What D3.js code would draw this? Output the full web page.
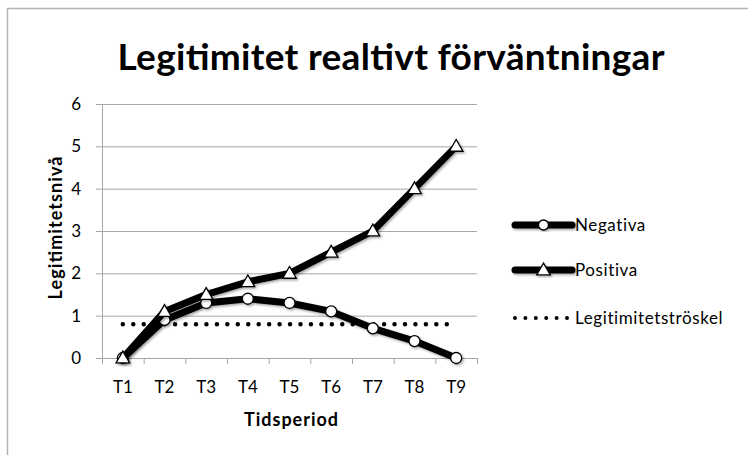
<!DOCTYPE html>
<html><head><meta charset="utf-8">
<script src="https://cdn.jsdelivr.net/npm/d3@7"></script>
<style>body{margin:0;background:#fff}svg{display:block}text{font-family:Lato,"Open Sans",sans-serif}</style>
</head><body>
<svg id="c" width="748" height="455"></svg>
<script>
const categories = ["T1","T2","T3","T4","T5","T6","T7","T8","T9"];
const negativa = [0, 0.9, 1.3, 1.4, 1.3, 1.1, 0.7, 0.4, 0];
const positiva = [0, 1.1, 1.5, 1.8, 2.0, 2.5, 3.0, 4.0, 5.0];
const troskel = [0.8, 0.8, 0.8, 0.8, 0.8, 0.8, 0.8, 0.8, 0.8];
const yTicks = [0,1,2,3,4,5,6];
const seriesNames = ["Negativa","Positiva","Legitimitetströskel"];
const title = "Legitimitet realtivt förväntningar";
const xTitle = "Tidsperiod";
const yTitle = "Legitimitetsnivå";

const svg = d3.select("#c");
const defs = svg.append("defs");
const f = defs.append("filter").attr("id","sh").attr("x","-20%").attr("y","-20%").attr("width","140%").attr("height","140%");
f.append("feDropShadow").attr("dx",1.5).attr("dy",1.5).attr("stdDeviation",1.2).attr("flood-color","#000").attr("flood-opacity",0.35);

// outer border
svg.append("path").attr("d","M7.5,455 V8.5 H748").attr("fill","none").attr("stroke","#b3b3b3").attr("stroke-width",1.5);

const m = {l:102, r:477, t:104, b:358};
const x = d3.scaleBand().domain(categories).range([m.l, m.r]);
const y = d3.scaleLinear().domain([0,6]).range([m.b, m.t]);
const cx = d => x(d) + x.bandwidth()/2;

// gridlines
svg.append("g").selectAll("line").data(yTicks).join("line")
  .attr("x1", m.l-6).attr("x2", m.r).attr("y1", d=>y(d)+0.5).attr("y2", d=>y(d)+0.5)
  .attr("stroke","#a6a6a6").attr("stroke-width",1);
svg.append("line").attr("x1",m.l+0.5).attr("x2",m.l+0.5).attr("y1",m.t).attr("y2",m.b).attr("stroke","#a6a6a6");
const bounds = categories.map(c=>x(c)).concat([m.r]);
svg.append("g").selectAll("line").data(bounds).join("line")
  .attr("x1",d=>d+0.5).attr("x2",d=>d+0.5).attr("y1",m.b).attr("y2",m.b+6).attr("stroke","#a6a6a6");

// y tick labels
svg.append("g").selectAll("text").data(yTicks).join("text")
  .attr("x",81).attr("y",d=>y(d)).attr("dy","0.36em").attr("text-anchor","end")
  .attr("font-size",17).attr("fill","#000").text(d=>d);
// x tick labels
svg.append("g").selectAll("text").data(categories).join("text")
  .attr("x",d=>cx(d)).attr("y",387).attr("dy","0.36em").attr("text-anchor","middle")
  .attr("font-size",17).attr("fill","#000").text(d=>d);

// titles
svg.append("text").attr("x",391).attr("y",70).attr("text-anchor","middle").attr("font-size",37).attr("font-weight","bold")
  .attr("textLength",547).attr("lengthAdjust","spacing").text(title);
svg.append("text").attr("x",291).attr("y",420).attr("dy","0.36em").attr("text-anchor","middle").attr("font-size",18).attr("font-weight","bold")
  .attr("textLength",94).attr("lengthAdjust","spacing").text(xTitle);
svg.append("text").attr("transform","translate(56,228) rotate(-90)").attr("dy","0.36em").attr("text-anchor","middle").attr("font-size",18).attr("font-weight","bold")
  .attr("textLength",143).attr("lengthAdjust","spacing").text(yTitle);

// threshold dotted
const line = d3.line().x((d,i)=>cx(categories[i])).y(d=>y(d));
svg.append("path").datum(troskel).attr("d",line).attr("fill","none").attr("stroke","#000")
  .attr("stroke-width",4.5).attr("stroke-linecap","round").attr("stroke-dasharray","0 10.45");

const tri = d3.symbol().type(d3.symbolTriangle).size(80);
function drawSeries(vals, marker){
  const g = svg.append("g").attr("filter","url(#sh)");
  g.append("path").datum(vals).attr("d",line).attr("fill","none").attr("stroke","#000").attr("stroke-width",7).attr("stroke-linejoin","round");
  if(marker==="circle"){
    g.selectAll("circle").data(vals).join("circle").attr("cx",(d,i)=>cx(categories[i])).attr("cy",d=>y(d)).attr("r",5.5)
      .attr("fill","#fff").attr("stroke","#000").attr("stroke-width",1.3);
  } else {
    g.selectAll("path.m").data(vals).join("path").attr("class","m").attr("d",tri)
      .attr("transform",(d,i)=>`translate(${cx(categories[i])},${y(d)+1})`)
      .attr("fill","#fff").attr("stroke","#000").attr("stroke-width",1.3);
  }
}
drawSeries(negativa,"circle");
drawSeries(positiva,"triangle");

// legend
const ly = [225, 270, 318];
const lg = svg.append("g");
[0,1].forEach(i=>{
  const gg = lg.append("g").attr("filter","url(#sh)");
  gg.append("line").attr("x1",515).attr("x2",572).attr("y1",ly[i]).attr("y2",ly[i]).attr("stroke","#000").attr("stroke-width",7).attr("stroke-linecap","round");
  if(i===0) gg.append("circle").attr("cx",543.5).attr("cy",ly[i]).attr("r",5).attr("fill","#fff").attr("stroke","#000").attr("stroke-width",1.3);
  else gg.append("path").attr("d",tri).attr("transform",`translate(543.5,${ly[i]+1})`).attr("fill","#fff").attr("stroke","#000").attr("stroke-width",1.3);
});
lg.append("line").attr("x1",515).attr("x2",572).attr("y1",ly[2]).attr("y2",ly[2]).attr("stroke","#000").attr("stroke-width",4).attr("stroke-linecap","round").attr("stroke-dasharray","0 10.4");
lg.selectAll("text").data(seriesNames).join("text").attr("x",575).attr("y",(d,i)=>ly[i]).attr("dy","0.36em")
  .attr("font-size",17).attr("letter-spacing",0.6).attr("fill","#000").text(d=>d);
</script>
</body></html>
